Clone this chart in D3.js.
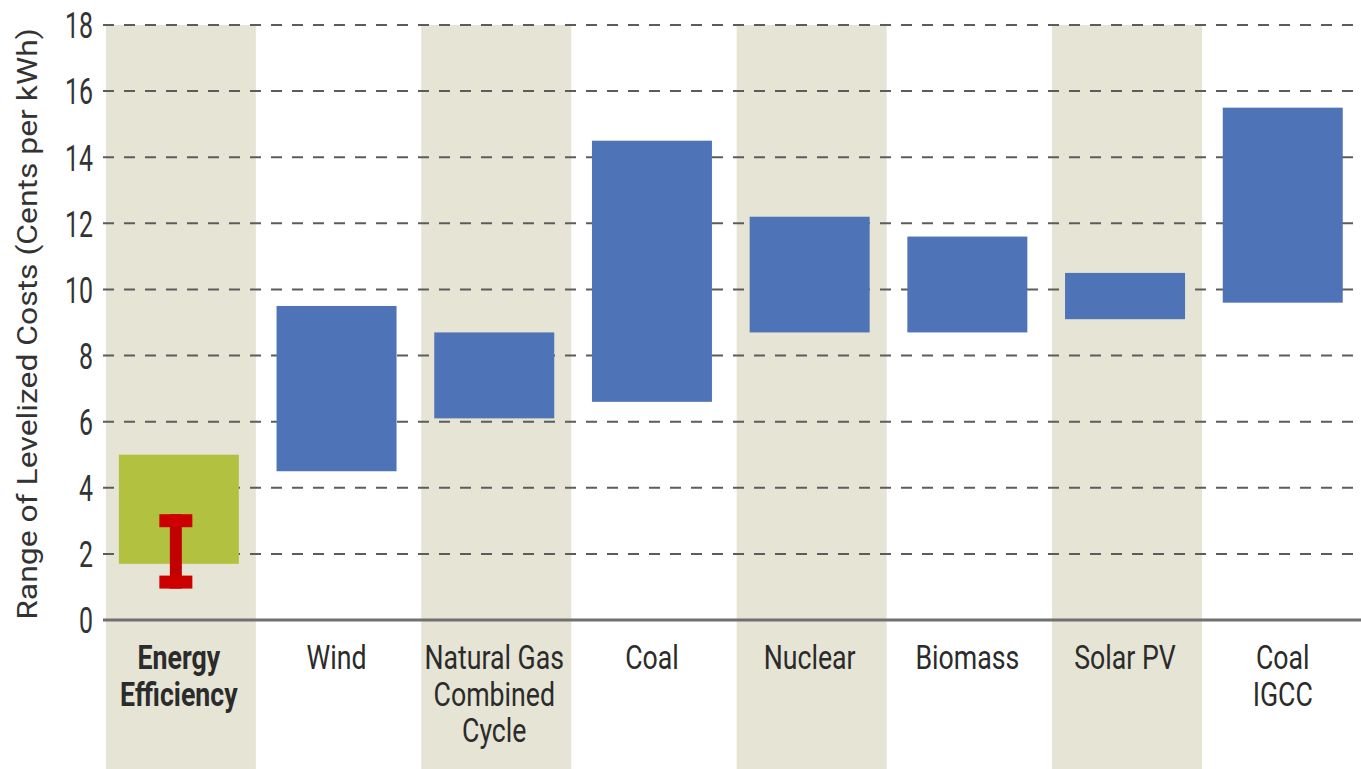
<!DOCTYPE html>
<html><head><meta charset="utf-8">
<script src="https://cdn.jsdelivr.net/npm/d3@7"></script>
<style>
html,body{margin:0;padding:0;background:#fff;}
svg{display:block;}
text{font-family:"Roboto","Liberation Sans",sans-serif;}
</style></head>
<body>
<svg id="chart" width="1361" height="769"></svg>
<script>
const categories = ["Energy Efficiency","Wind","Natural Gas Combined Cycle","Coal","Nuclear","Biomass","Solar PV","Coal IGCC"];
const categoryLines = [["Energy","Efficiency"],["Wind"],["Natural Gas","Combined","Cycle"],["Coal"],["Nuclear"],["Biomass"],["Solar PV"],["Coal","IGCC"]];
const lowValues  = [1.7, 4.5, 6.1, 6.6, 8.7, 8.7, 9.1, 9.6];
const highValues = [5.0, 9.5, 8.7, 14.5, 12.2, 11.6, 10.5, 15.5];
const errorLow  = [0.95];
const errorHigh = [3.2];
const yTicks = [0,2,4,6,8,10,12,14,16,18];

const svg = d3.select("#chart");
const W = 1361, H = 769;
const x = d3.scaleBand().domain(categories).range([100, 100 + 8*157.7]).padding(0);
const y = d3.scaleLinear().domain([0,18]).range([620, 25]);
const bandW = 150, barW = 120;
const cx = c => x(c) + x.bandwidth()/2;

// measure helper
function measure(txt, size, weight) {
  const t = svg.append("text").attr("font-size", size).attr("font-weight", weight||"normal").text(txt);
  const w = t.node().getComputedTextLength();
  t.remove();
  return w;
}
const labelSize = 33;
const sxLabel = 60 / measure("Wind", labelSize);
const tickSize = 37;
const sxTick = 28 / measure("18", tickSize);

// shaded columns
svg.append("g").selectAll("rect")
  .data(categories.filter((c,i)=> i%2===0))
  .join("rect")
  .attr("x", c => cx(c) + 2 - bandW/2)
  .attr("y", y(18))
  .attr("width", bandW)
  .attr("height", H - y(18))
  .attr("fill", "#e6e4d4");

// gridlines
svg.append("g").selectAll("line")
  .data(yTicks.filter(t=>t>0))
  .join("line")
  .attr("x1", 103).attr("x2", W)
  .attr("y1", d=>y(d)).attr("y2", d=>y(d))
  .attr("stroke", "#5c5c5c")
  .attr("stroke-width", 2)
  .attr("stroke-dasharray", "11,10");

// baseline
svg.append("line")
  .attr("x1", 103).attr("x2", W)
  .attr("y1", y(0)).attr("y2", y(0))
  .attr("stroke", "#707070").attr("stroke-width", 3);

// tick labels
svg.append("g").selectAll("text")
  .data(yTicks)
  .join("text")
  .attr("transform", d => `translate(93,${y(d)}) scale(${sxTick},1)`)
  .attr("dy", "0.36em")
  .attr("text-anchor", "end")
  .attr("font-size", tickSize)
  .attr("fill", "#333")
  .text(d=>d);

// bars
svg.append("g").selectAll("rect")
  .data(categories)
  .join("rect")
  .attr("x", c => cx(c) - barW/2)
  .attr("y", (c,i) => y(highValues[i]))
  .attr("width", barW)
  .attr("height", (c,i) => y(lowValues[i]) - y(highValues[i]))
  .attr("fill", (c,i) => i===0 ? "#b3c140" : "#4e74b7");

// error I-beam for Energy Efficiency
const ex = cx(categories[0]) - 3;
const eg = svg.append("g");
eg.append("rect")
  .attr("x", ex - 6).attr("y", y(errorHigh[0]))
  .attr("width", 12).attr("height", y(errorLow[0]) - y(errorHigh[0]))
  .attr("fill", "#c10000");
eg.append("rect")
  .attr("x", ex - 16.5).attr("y", y(errorHigh[0]))
  .attr("width", 33).attr("height", 13)
  .attr("fill", "#cc0000");
eg.append("rect")
  .attr("x", ex - 16.5).attr("y", y(errorLow[0]) - 13)
  .attr("width", 33).attr("height", 13)
  .attr("fill", "#cc0000");

// category labels
const lg = svg.append("g");
categories.forEach((c,i) => {
  categoryLines[i].forEach((ln,j) => {
    lg.append("text")
      .attr("transform", `translate(${cx(c)},${669 + j*36.5}) scale(${sxLabel},1)`)
      .attr("text-anchor", "middle")
      .attr("font-size", labelSize)
      .attr("font-weight", i===0 ? "bold" : "normal")
      .attr("fill", "#2b2b2b")
      .text(ln);
  });
});

// y-axis title
const titleText = "Range of Levelized Costs (Cents per kWh)";
const titleSize = 27;
const sxTitle = 592 / measure(titleText, titleSize);
svg.append("text")
  .attr("transform", `translate(37,${(620+28)/2}) rotate(-90) scale(${sxTitle},1)`)
  .attr("text-anchor", "middle")
  .attr("font-size", titleSize)
  .attr("fill", "#333")
  .text(titleText);
</script>
</body></html>
